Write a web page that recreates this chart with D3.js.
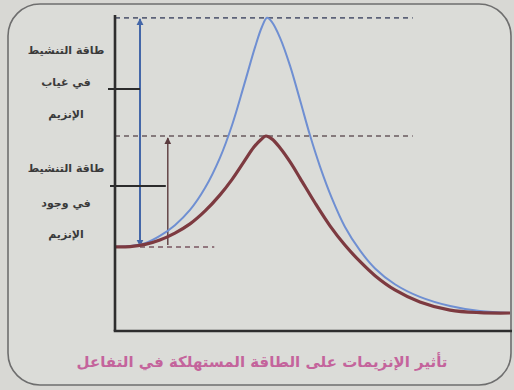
<!DOCTYPE html>
<html>
<head>
<meta charset="utf-8">
<script src="https://cdn.jsdelivr.net/npm/d3@7"></script>
<style>
  body { margin: 0; background: #d8d8d4; }
  text { font-family: "DejaVu Sans", sans-serif; }
</style>
</head>
<body>
<div id="wrapper"></div>
<script>
// reaction progress (0-100) vs energy (0-100)
const blueCurve = [
  [0, 26.6], [3.8, 26.9], [7.6, 27.8], [11.3, 30.1], [15.1, 33.5],
  [18.9, 38.3], [22.7, 45.3], [26.4, 54.7], [29.5, 65.2], [32.5, 77.8],
  [35.3, 89.9], [37.0, 96.2], [38.3, 99.1], [39.5, 97.8], [41.6, 92.7],
  [44.1, 83.9], [46.6, 73.1], [49.1, 62.0], [51.6, 52.2], [54.7, 41.8],
  [57.9, 33.0], [61.7, 25.5], [65.5, 19.8], [70.5, 14.8], [76.8, 10.8],
  [84.4, 7.9], [91.9, 6.3], [99.5, 5.7]
];
const redCurve = [
  [0, 26.6], [3.8, 26.7], [7.6, 27.4], [11.3, 28.8], [15.1, 31.0],
  [18.9, 33.9], [22.7, 38.0], [26.4, 43.0], [29.5, 48.0], [32.5, 53.6],
  [35.0, 58.2], [36.8, 60.6], [38.0, 61.7], [39.5, 60.8], [41.6, 57.9],
  [44.1, 53.5], [46.6, 48.4], [50.4, 40.5], [54.2, 33.2], [57.9, 27.2],
  [61.7, 22.0], [65.5, 17.5], [70.5, 13.0], [76.8, 9.2], [84.4, 6.6],
  [91.9, 5.8], [99.5, 5.7]
];
const energyLevels = { reactant: 26.6, noEnzyme: 99.1, withEnzyme: 61.7 };
const labelsNoEnzyme = ["طاقة التنشيط", "في غياب", "الإنزيم"];
const labelsWithEnzyme = ["طاقة التنشيط", "في وجود", "الإنزيم"];
const caption = "تأثير الإنزيمات على الطاقة المستهلكة في التفاعل";

let dimensions = {
  width: 514,
  height: 390,
  margin: { top: 15, right: 2, bottom: 59, left: 115 },
}
dimensions.boundedWidth = dimensions.width
  - dimensions.margin.left
  - dimensions.margin.right
dimensions.boundedHeight = dimensions.height
  - dimensions.margin.top
  - dimensions.margin.bottom

const wrapper = d3.select("#wrapper")
  .append("svg")
  .attr("width", dimensions.width)
  .attr("height", dimensions.height);

// rounded frame of the figure
wrapper.append("rect")
  .attr("x", 8).attr("y", 4)
  .attr("width", 503).attr("height", 381)
  .attr("rx", 32)
  .attr("fill", "#dbdcd8")
  .attr("stroke", "#6e6e6e")
  .attr("stroke-width", 1.6);

const bounds = wrapper.append("g")
  .attr("transform", `translate(${dimensions.margin.left},${dimensions.margin.top})`);

const xScale = d3.scaleLinear()
  .domain([0, 100])
  .range([0, dimensions.boundedWidth]);

const yScale = d3.scaleLinear()
  .domain([0, 100])
  .range([dimensions.boundedHeight, 0]);

const defs = wrapper.append("defs");
function marker(id, color) {
  defs.append("marker")
    .attr("id", id)
    .attr("viewBox", "0 0 10 10")
    .attr("refX", 9).attr("refY", 5)
    .attr("markerWidth", 7).attr("markerHeight", 9)
    .attr("markerUnits", "userSpaceOnUse")
    .attr("orient", "auto-start-reverse")
    .append("path")
    .attr("d", "M0,0L10,5L0,10Z")
    .attr("fill", color);
}
marker("arrowBlue", "#4467a8");
marker("arrowRed", "#5b3b3e");

// dashed reference levels
const dashed = [
  { y: energyLevels.noEnzyme, x0: 0, x1: 75, color: "#5d6378" },
  { y: energyLevels.withEnzyme, x0: 0, x1: 75, color: "#6a5a5e" },
  { y: energyLevels.reactant, x0: 6.3, x1: 25, color: "#7a5560" },
];
bounds.selectAll(".dash")
  .data(dashed)
  .join("line")
  .attr("x1", d => xScale(d.x0))
  .attr("x2", d => xScale(d.x1))
  .attr("y1", d => yScale(d.y))
  .attr("y2", d => yScale(d.y))
  .attr("stroke", d => d.color)
  .attr("stroke-width", 1.6)
  .attr("stroke-dasharray", "5,4");

// activation energy arrows
bounds.append("line")
  .attr("x1", xScale(6.3)).attr("x2", xScale(6.3))
  .attr("y1", yScale(energyLevels.reactant) - 1)
  .attr("y2", yScale(energyLevels.noEnzyme) + 1)
  .attr("stroke", "#4467a8")
  .attr("stroke-width", 2)
  .attr("marker-start", "url(#arrowBlue)")
  .attr("marker-end", "url(#arrowBlue)");

bounds.append("line")
  .attr("x1", xScale(13.3)).attr("x2", xScale(13.3))
  .attr("y1", yScale(energyLevels.reactant) - 2)
  .attr("y2", yScale(energyLevels.withEnzyme) + 2)
  .attr("stroke", "#5b3b3e")
  .attr("stroke-width", 1.4)
  .attr("marker-end", "url(#arrowRed)");

// label pointers
bounds.append("line")
  .attr("x1", -7).attr("x2", xScale(6.3))
  .attr("y1", yScale(76.6)).attr("y2", yScale(76.6))
  .attr("stroke", "#2b2b2b").attr("stroke-width", 2);
bounds.append("line")
  .attr("x1", -5).attr("x2", xScale(12.8))
  .attr("y1", yScale(45.9)).attr("y2", yScale(45.9))
  .attr("stroke", "#2b2b2b").attr("stroke-width", 2);

// energy curves
const line = d3.line()
  .x(d => xScale(d[0]))
  .y(d => yScale(d[1]))
  .curve(d3.curveCatmullRom.alpha(0.5));

bounds.append("path")
  .attr("d", line(blueCurve))
  .attr("fill", "none")
  .attr("stroke", "#6f8fd2")
  .attr("stroke-width", 2);

bounds.append("path")
  .attr("d", line(redCurve))
  .attr("fill", "none")
  .attr("stroke", "#7d3a40")
  .attr("stroke-width", 3.2);

// axes
bounds.append("line")
  .attr("x1", 0).attr("x2", 0)
  .attr("y1", 0).attr("y2", dimensions.boundedHeight)
  .attr("stroke", "#2e2e2e").attr("stroke-width", 2.6);
bounds.append("line")
  .attr("x1", -1.3).attr("x2", dimensions.boundedWidth)
  .attr("y1", dimensions.boundedHeight).attr("y2", dimensions.boundedHeight)
  .attr("stroke", "#2e2e2e").attr("stroke-width", 2.6);

// side labels
const labelRows = [
  { lines: labelsNoEnzyme, ys: [51, 83, 115] },
  { lines: labelsWithEnzyme, ys: [169, 204, 235] },
];
labelRows.forEach(g => {
  wrapper.selectAll(null)
    .data(g.lines)
    .join("text")
    .attr("x", 66)
    .attr("y", (d, i) => g.ys[i])
    .attr("text-anchor", "middle")
    .attr("dominant-baseline", "middle")
    .attr("direction", "rtl")
    .attr("font-size", 11)
    .attr("font-weight", "bold")
    .attr("fill", "#3a3a3a")
    .text(d => d);
});

wrapper.append("text")
  .attr("x", 262)
  .attr("y", 362)
  .attr("text-anchor", "middle")
  .attr("dominant-baseline", "middle")
  .attr("direction", "rtl")
  .attr("font-size", 15)
  .attr("font-weight", "bold")
  .attr("fill", "#c4649c")
  .text(caption);
</script>
</body>
</html>
